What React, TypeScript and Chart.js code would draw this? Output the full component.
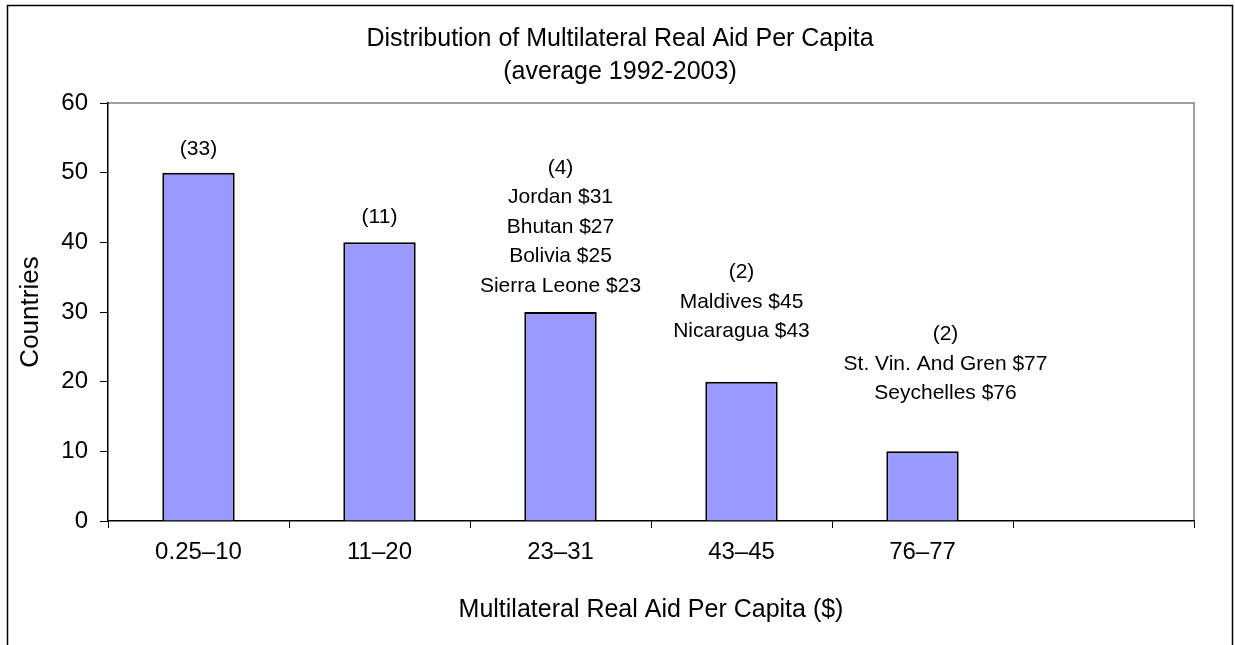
import React, { useEffect, useRef } from "react";
import { Chart, registerables } from "chart.js";

Chart.register(...registerables);

// ---- data ----
const categories = ["0.25–10", "11–20", "23–31", "43–45", "76–77", ""];
const barValues = [50, 40, 30, 20, 10, null];
const yTickValues = [0, 10, 20, 30, 40, 50, 60];
const countLabels = ["(33)", "(11)", "(4)", "(2)", "(2)", ""];
const countryLabels = [
  [],
  [],
  ["Jordan $31", "Bhutan $27", "Bolivia $25", "Sierra Leone $23"],
  ["Maldives $45", "Nicaragua $43"],
  ["St. Vin. And Gren $77", "Seychelles $76"],
  [],
];
const titleLines = ["Distribution of Multilateral Real Aid Per Capita", "(average 1992-2003)"];
const xTitle = "Multilateral Real Aid Per Capita ($)";
const yTitle = "Countries";

// ---- style (placement of the annotation blocks, px) ----
const LABEL_GAP = [23, 25, 26, 50, 58, 0];
const LABEL_DX = [0, 0, 0, 0, 23, 0];
const LINE_STEP = 29.5;
const FONT = '"Liberation Sans", Arial, sans-serif';

const decor = {
  id: "decor",
  beforeDraw(chart: any) {
    const ctx = chart.ctx;
    ctx.save();
    ctx.fillStyle = "#fff";
    ctx.fillRect(0, 0, chart.width, chart.height);
    ctx.strokeStyle = "#000";
    ctx.lineWidth = 1.5;
    ctx.strokeRect(7.5, 5.5, 1225, 700);
    ctx.fillStyle = "#000";
    ctx.font = `25px ${FONT}`;
    ctx.textAlign = "center";
    ctx.textBaseline = "middle";
    ctx.fillText(titleLines[0], 620, 39);
    ctx.fillText(titleLines[1], 620, 72);
    const { left, right, top, bottom } = chart.chartArea;
    ctx.strokeStyle = "#808080";
    ctx.lineWidth = 1.5;
    ctx.beginPath();
    ctx.moveTo(left, top);
    ctx.lineTo(right, top);
    ctx.lineTo(right, bottom);
    ctx.stroke();
    ctx.restore();
  },
  afterDatasetsDraw(chart: any) {
    const ctx = chart.ctx;
    const xs = chart.scales.x;
    const ys = chart.scales.y;
    ctx.save();
    ctx.fillStyle = "#000";
    ctx.font = `21px ${FONT}`;
    ctx.textAlign = "center";
    ctx.textBaseline = "middle";
    categories.forEach((_, i) => {
      const v = barValues[i];
      if (v == null) return;
      const lines = [countLabels[i], ...countryLabels[i]];
      const x = xs.getPixelForValue(i) + LABEL_DX[i];
      const yTop = ys.getPixelForValue(v);
      const yLast = yTop - LABEL_GAP[i];
      lines.forEach((t, k) => {
        const y = yLast - (lines.length - 1 - k) * LINE_STEP;
        ctx.fillText(t, x, y);
      });
    });
    ctx.restore();
  },
};

export default function App() {
  const ref = useRef<HTMLCanvasElement | null>(null);
  useEffect(() => {
    if (!ref.current) return;
    Chart.defaults.font.family = FONT;
    const chart = new Chart(ref.current, {
      type: "bar",
      data: {
        labels: categories,
        datasets: [
          {
            data: barValues as any,
            backgroundColor: "#9999FF",
            borderColor: "#000",
            borderWidth: 2,
            barPercentage: 0.4,
            categoryPercentage: 1.0,
          },
        ],
      },
      options: {
        responsive: false,
        animation: false,
        layout: { padding: { left: 0, right: 41, top: 103, bottom: 0 } },
        plugins: { legend: { display: false }, tooltip: { enabled: false }, title: { display: false } },
        scales: {
          x: {
            type: "category",
            offset: true,
            grid: { offset: true, drawOnChartArea: false, drawTicks: true, tickLength: 7, color: "#000", lineWidth: 1 },
            border: { display: true, color: "#000", width: 1.5 },
            ticks: { color: "#000", font: { size: 24 }, padding: 10, maxRotation: 0, autoSkip: false },
            title: { display: true, text: xTitle, color: "#000", font: { size: 25 }, padding: { top: 0, bottom: 20 } },
            afterFit: (s: any) => {
              s.height = 124;
            },
          },
          y: {
            min: 0,
            max: 60,
            afterBuildTicks: (s: any) => {
              s.ticks = yTickValues.map((v) => ({ value: v }));
            },
            grid: { drawOnChartArea: false, drawTicks: true, tickLength: 8, color: "#000", lineWidth: 1 },
            border: { display: true, color: "#000", width: 1.5 },
            ticks: { color: "#000", font: { size: 24 }, padding: 12 },
            title: { display: true, text: yTitle, color: "#000", font: { size: 26 }, padding: { top: 15, bottom: 0 } },
            afterFit: (s: any) => {
              s.width = 108;
            },
          },
        },
      },
      plugins: [decor],
    });
    return () => chart.destroy();
  }, []);
  return (
    <div style={{ position: "absolute", left: 0, top: 0, width: 1235, height: 645 }}>
      <canvas ref={ref} width={1235} height={645} style={{ display: "block", width: 1235, height: 645 }} />
    </div>
  );
}
